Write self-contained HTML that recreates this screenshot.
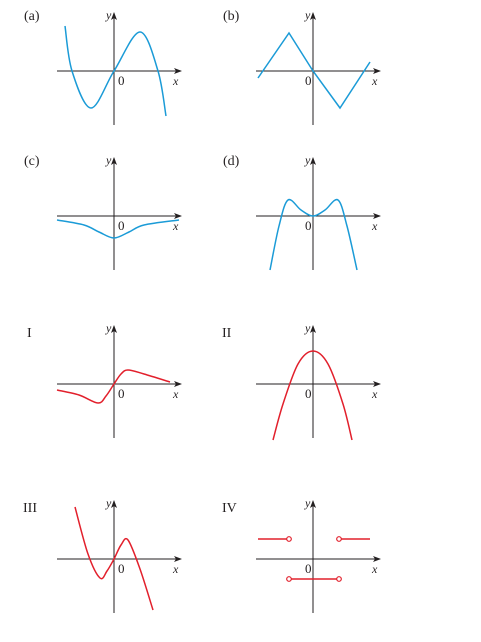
<!DOCTYPE html>
<html><head><meta charset="utf-8"><style>
body{margin:0;background:#fff;width:481px;height:637px;overflow:hidden}
svg text{font-family:"Liberation Serif",serif;fill:#231f20}
</style></head><body>
<svg id="chart" width="481" height="637" viewBox="0 0 481 637" xmlns="http://www.w3.org/2000/svg">
<defs><marker id="ar" markerWidth="8" markerHeight="6" refX="7" refY="3" orient="auto"><path d="M0,0 L8,3 L0,6 L2,3z" fill="#231f20"/></marker></defs>
</svg>
<script>
const NS='http://www.w3.org/2000/svg';
const svg=document.getElementById('chart');
// data arrays (units; 1 unit = 10px)
const aX=[-4.9,-4.2,-2.3,0,2.6,4.4,5.2], aY=[4.5,0,-3.7,0,3.9,0,-4.5];
const bX=[-5.5,-2.4,0,2.7,5.7], bY=[-0.7,3.8,0,-3.7,0.9];
const cX=[-5.7,-3,-1.5,0,1.5,3,6.5], cY=[-0.4,-0.9,-1.6,-2.2,-1.6,-0.9,-0.4];
const dX=[-4.3,-3.4,-2.5,-1.2,0,1.2,2.5,3.4,4.4], dY=[-5.4,-1,1.6,0.6,0,0.6,1.6,-1,-5.4];
const iX=[-5.7,-3.5,-1.6,-0.8,0,0.7,1.4,3,5.6], iY=[-0.6,-1.1,-1.9,-1.2,0,1.0,1.4,1.0,0.2];
const iiX=[-4,-3,-1.5,0,1.5,3,3.9], iiY=[-5.6,-2,2.0,3.3,2.0,-2,-5.6];
const iiiX=[-3.9,-2.6,-1.4,-0.7,0,0.7,1.4,2.6,3.9], iiiY=[5.2,0.5,-1.9,-1.2,0,1.4,1.9,-1,-5.1];
const ivStarts=[-5.5,-2.4,2.6], ivEnds=[-2.4,2.6,5.7], ivY=[2,-2,2];
const ivOpenL=[false,true,true], ivOpenR=[true,true,false];
const panels=[
 {id:'a',lab:'(a)',ox:114,oy:71,col:'#1b9bd7',xs:aX,ys:aY,smooth:true,zl:false},
 {id:'b',lab:'(b)',ox:313,oy:71,col:'#1b9bd7',xs:bX,ys:bY,smooth:false,zl:true},
 {id:'c',lab:'(c)',ox:114,oy:216,col:'#1b9bd7',xs:cX,ys:cY,smooth:true,zl:false},
 {id:'d',lab:'(d)',ox:313,oy:216,col:'#1b9bd7',xs:dX,ys:dY,smooth:true,zl:true},
 {id:'i',lab:'I',ox:114,oy:384,col:'#e2202c',xs:iX,ys:iY,smooth:true,zl:false},
 {id:'ii',lab:'II',ox:313,oy:384,col:'#e2202c',xs:iiX,ys:iiY,smooth:true,zl:true},
 {id:'iii',lab:'III',ox:114,oy:559,col:'#e2202c',xs:iiiX,ys:iiiY,smooth:true,zl:false},
 {id:'iv',lab:'IV',ox:313,oy:559,col:'#e2202c',xs:null,zl:true}
];
const U=10;
function mk(t,a,p){const e=document.createElementNS(NS,t);for(const k in a)e.setAttribute(k,a[k]);(p||svg).appendChild(e);return e;}
function txt(p,x,y,s,sz,it){const e=mk('text',{x:x,y:y,'font-size':sz,'font-style':it?'italic':'normal'},p);e.textContent=s;return e;}
panels.forEach(P=>{
 const g=mk('g',{});
 
 
 const sx=v=>P.ox+v*U, sy=v=>P.oy-v*U;
 const lb=txt(g,0,0,P.lab,14,false);
 lb.setAttribute('x',P.ox-(P.lab.startsWith('(')?90:(P.lab==='I'?87:91)));
 lb.setAttribute('y',P.oy-(P.id==='i'||P.id==='ii'||P.id==='iii'||P.id==='iv'?47:51));
 
 
 const xa=mk('line',{x1:P.ox-57,y1:P.oy,x2:P.ox+67,y2:P.oy,stroke:'#231f20','stroke-width':1,'marker-end':'url(#ar)'},g);
 
 
 const ya=mk('line',{x1:P.ox,y1:P.oy+54,x2:P.ox,y2:P.oy-58,stroke:'#231f20','stroke-width':1,'marker-end':'url(#ar)'},g);
 
 
 const t0=txt(g,P.zl?P.ox-8:P.ox+4,P.oy+14,'0',13,false);
 
 
 const tx=txt(g,P.ox+59,P.oy+14,'x',12,true);
 
 
 const ty=txt(g,P.ox-8,P.oy-52,'y',12,true);
 
 
 if(P.xs){
  const pts=P.xs.map((x,i)=>[sx(x),sy(P.ys[i])]);
  let d='M'+pts[0][0]+','+pts[0][1];
  if(P.smooth){
   for(let i=0;i<pts.length-1;i++){
    const p0=pts[Math.max(0,i-1)],p1=pts[i],p2=pts[i+1],p3=pts[Math.min(pts.length-1,i+2)];
    const c1=[p1[0]+(p2[0]-p0[0])/6,p1[1]+(p2[1]-p0[1])/6],c2=[p2[0]-(p3[0]-p1[0])/6,p2[1]-(p3[1]-p1[1])/6];
    d+=' C'+c1+' '+c2+' '+p2;
   }
  } else pts.slice(1).forEach(p=>d+=' L'+p);
  const c=mk('path',{d:d,fill:'none',stroke:P.col,'stroke-width':1.5},g);
  
  
 } else {
  ivStarts.forEach((s,i)=>{
   const l=mk('line',{x1:sx(s),y1:sy(ivY[i]),x2:sx(ivEnds[i]),y2:sy(ivY[i]),stroke:P.col,'stroke-width':1.5},g);
   
   
   [[ivOpenL[i],s],[ivOpenR[i],ivEnds[i]]].forEach(([o,x])=>{ if(!o)return;
    const c=mk('circle',{cx:sx(x),cy:sy(ivY[i]),r:2.3,fill:'#fff',stroke:P.col,'stroke-width':1.2},g);
    
    
   });
  });
 }
});
</script>
</body></html>
